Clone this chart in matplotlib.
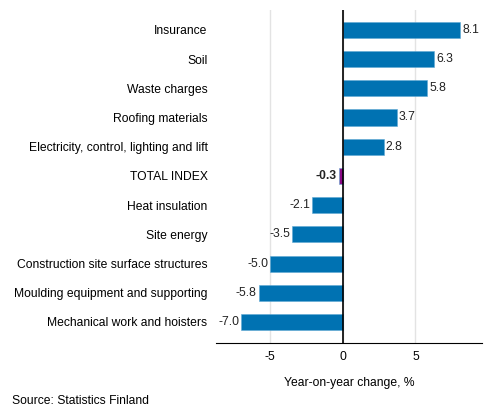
import matplotlib

matplotlib.use("Agg")
import matplotlib.pyplot as plt
import numpy as np

plt.rcParams["font.family"] = ["Liberation Sans", "DejaVu Sans"]

categories = [
    "Insurance",
    "Soil",
    "Waste charges",
    "Roofing materials",
    "Electricity, control, lighting and lift",
    "TOTAL INDEX",
    "Heat insulation",
    "Site energy",
    "Construction site surface structures",
    "Moulding equipment and supporting",
    "Mechanical work and hoisters",
]
values = [8.1, 6.3, 5.8, 3.7, 2.8, -0.3, -2.1, -3.5, -5.0, -5.8, -7.0]
xticks = [-5, 0, 5]

BLUE = "#0072b2"
PURPLE = "#8b0a87"
FS = 8.75

fig = plt.figure(figsize=(4.93, 4.16), dpi=100)
ax = fig.add_axes([0.438, 0.1755, 0.540, 0.8005])

ypos = np.arange(len(categories))[::-1]
colors = [PURPLE if c == "TOTAL INDEX" else BLUE for c in categories]
ax.barh(ypos, values, height=0.55, color=colors, edgecolor="#5fa8d3", linewidth=0.4, zorder=3)

for y, v, c in zip(ypos, values, categories):
    bold = c == "TOTAL INDEX"
    off = 0.15 if v >= 0 else -0.15
    ax.text(v + off, y, f"{v:.1f}", va="center", ha="left" if v >= 0 else "right",
            fontsize=FS, fontweight="bold" if bold else "normal", color="#222222")

ax.set_yticks(ypos)
ax.set_yticklabels(categories, fontsize=FS)
ax.set_xticks(xticks)
ax.set_xticklabels([str(t) for t in xticks], fontsize=FS)
ax.tick_params(length=0, pad=6)
ax.tick_params(axis="y", pad=6)
ax.set_xlim(-8.75, 9.6)
ax.set_ylim(-0.72, len(categories) - 1 + 0.68)

ax.grid(axis="x", color="#e3e3e3", lw=1.0, zorder=0)
ax.axvline(0, color="black", lw=1.2, zorder=4)
for s in ("top", "right", "left"):
    ax.spines[s].set_visible(False)
ax.spines["bottom"].set_color("black")
ax.set_xlabel("Year-on-year change, %", fontsize=FS, labelpad=10)

fig.text(0.024, 0.03, "Source: Statistics Finland", fontsize=FS)

fig.savefig("out.png", dpi=100)
